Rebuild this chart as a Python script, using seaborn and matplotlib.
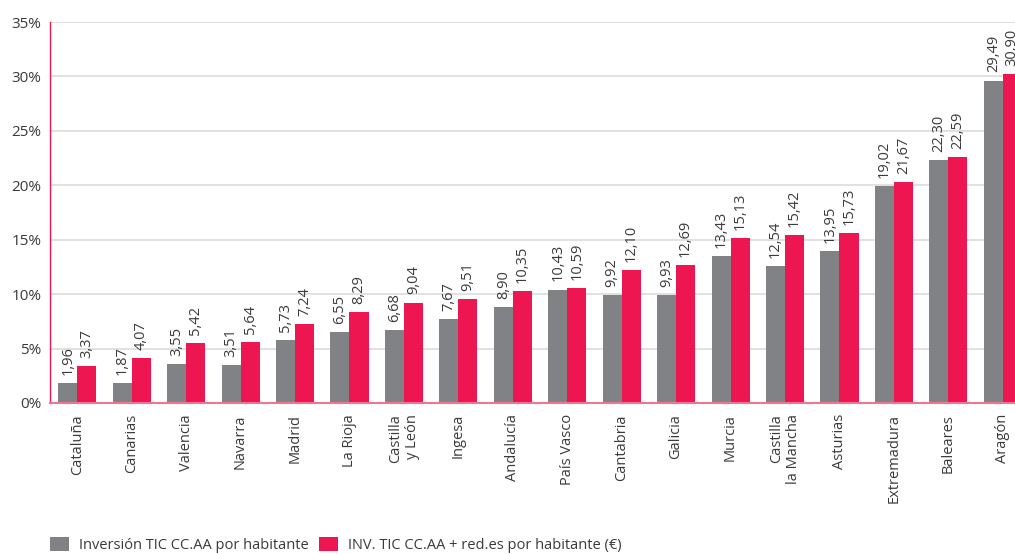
### Bibliotecas
import pandas as pd
import numpy as np
import matplotlib
matplotlib.use("Agg")
import matplotlib.pyplot as plt
import seaborn as sns
from matplotlib.patches import Patch

### Datos
comunidades = ["Cataluña", "Canarias", "Valencia", "Navarra", "Madrid", "La Rioja",
               "Castilla\ny León", "Ingesa", "Andalucía", "País Vasco", "Cantabria",
               "Galicia", "Murcia", "Castilla\nla Mancha", "Asturias", "Extremadura",
               "Baleares", "Aragón"]
# altura de las barras (%)
inv_ccaa = [1.85, 1.85, 3.56, 3.48, 5.77, 6.52, 6.69, 7.70, 8.82, 10.40, 9.92,
            9.93, 13.48, 12.58, 13.96, 19.93, 22.33, 29.60]
inv_total = [3.38, 4.10, 5.48, 5.60, 7.24, 8.32, 9.22, 9.54, 10.30, 10.57, 12.20,
             12.68, 15.15, 15.43, 15.62, 20.30, 22.60, 30.20]
# etiquetas de valor
etq_ccaa = ["1,96", "1,87", "3,55", "3,51", "5,73", "6,55", "6,68", "7,67", "8,90",
            "10,43", "9,92", "9,93", "13,43", "12,54", "13,95", "19,02", "22,30", "29,49"]
etq_total = ["3,37", "4,07", "5,42", "5,64", "7,24", "8,29", "9,04", "9,51", "10,35",
             "10,59", "12,10", "12,69", "15,13", "15,42", "15,73", "21,67", "22,59", "30,90"]
series = ["Inversión TIC CC.AA por habitante", "INV. TIC CC.AA + red.es por habitante (€)"]
colores = ["#818286", "#ED1651"]

### Tabla
dados = pd.DataFrame({
    "comunidad": comunidades * 2,
    "valor": inv_ccaa + inv_total,
    "serie": [series[0]] * len(comunidades) + [series[1]] * len(comunidades),
})

### Estilo
sns.set_style("white")
plt.rcParams["font.family"] = ["Open Sans", "DejaVu Sans"]
texto = "#3a3a3a"

fig = plt.figure(figsize=(10.15, 5.54), dpi=100)
# el eje sigue más allá del borde derecho (Aragón queda recortado)
ax = fig.add_axes([50 / 1015, 1 - 403 / 554, 980 / 1015, (403 - 22) / 554])

sns.barplot(data=dados, x="comunidad", y="valor", hue="serie", palette=colores,
            width=0.70, saturation=1, ax=ax, legend=False, edgecolor="none")

for cont, etq in zip(ax.containers, [etq_ccaa, etq_total]):
    ax.bar_label(cont, labels=etq, rotation=90, padding=6, fontsize=10.5, color=texto)

### Ejes
ax.set_xlim(-0.5, len(comunidades) - 0.5)
ax.set_ylim(0, 35)
ax.set_yticks(np.arange(0, 36, 5))
ax.set_yticklabels([f"{v}%" for v in range(0, 36, 5)], fontsize=11, color=texto)
ax.set_xticks(range(len(comunidades)))
ax.set_xticklabels(comunidades, rotation=90, fontsize=10.5, color=texto,
                   ha="center", va="top", multialignment="right")
ax.tick_params(axis="y", length=0, pad=6)
ax.tick_params(axis="x", length=0, pad=8)
ax.set_xlabel("")
ax.set_ylabel("")
ax.grid(axis="y", color="#dcdcdc", linewidth=1.2)
ax.set_axisbelow(True)
for lado in ["top", "right"]:
    ax.spines[lado].set_visible(False)
ax.spines["left"].set_color("#ED1651")
ax.spines["left"].set_linewidth(1)
ax.spines["bottom"].set_color("#F07592")
ax.spines["bottom"].set_linewidth(1.5)

### Leyenda
manijas = [Patch(facecolor=c, edgecolor="none") for c in colores]
fig.legend(manijas, series, loc="center left", bbox_to_anchor=(50 / 1015, 9 / 554),
           ncol=2, frameon=False, fontsize=10.5, handlelength=1.3, handleheight=1.1,
           handletextpad=0.7, columnspacing=0.7, labelcolor=texto,
           borderpad=0, borderaxespad=0)

fig.savefig("out.png", dpi=100)
